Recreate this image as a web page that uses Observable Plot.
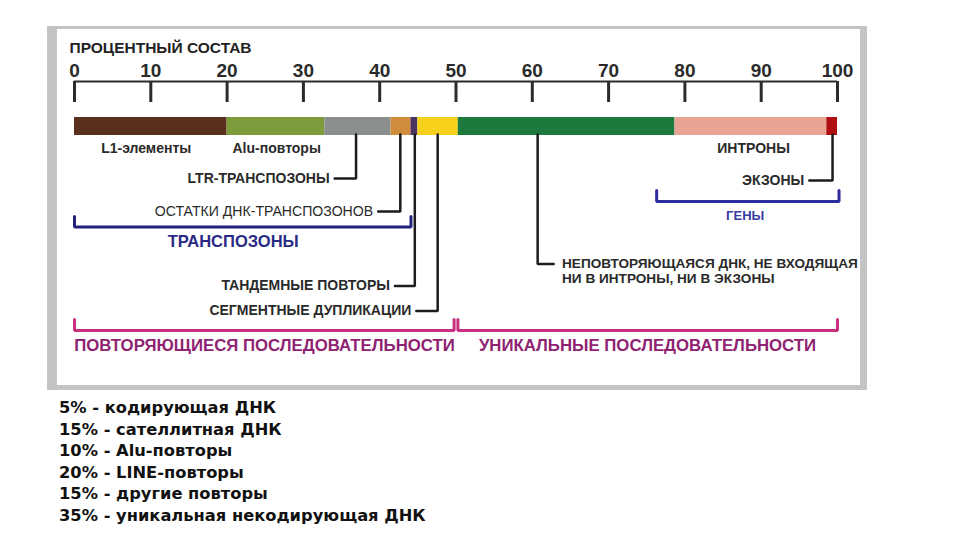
<!DOCTYPE html>
<html>
<head>
<meta charset="utf-8">
<script src="https://cdn.jsdelivr.net/npm/d3@7"></script>
<script src="https://cdn.jsdelivr.net/npm/@observablehq/plot@0.6"></script>
<style>
  html, body { margin: 0; padding: 0; background: #fff; }
  #wrap { position: relative; width: 960px; height: 540px; overflow: hidden; }
  #frame { position: absolute; left: 47px; top: 26px; width: 820px; height: 364px; box-sizing: border-box;
           border-left: 10px solid #c4c4c4; border-top: 3px solid #c4c4c4; border-right: 7px solid #c4c4c4; border-bottom: 5px solid #c4c4c4; }
  #chart { position: absolute; left: 0; top: 0; }
  #notes { position: absolute; left: 59px; top: 397px; font-family: "DejaVu Sans", Verdana, sans-serif; font-weight: bold;
           font-size: 16.3px; line-height: 21.6px; color: #111; }
</style>
</head>
<body>
<div id="wrap">
  <div id="frame"></div>
  <div id="chart"></div>
  <div id="notes"></div>
</div>
<script>
// ---- data ----
const segments = ["L1-элементы", "Alu-повторы", "LTR-транспозоны", "Остатки ДНК-транспозонов",
  "Тандемные повторы", "Сегментные дупликации", "Неповторяющаяся ДНК", "Интроны", "Экзоны"];
const shares = [20, 12.8, 8.7, 2.6, 0.9, 5.3, 28.4, 19.9, 1.4];
const segmentColors = ["#5a301d", "#7c9c3c", "#8b8f8d", "#d28c3e", "#4b3560", "#f6d11c", "#1d7a3f", "#e9a392", "#b00f12"];

const tickValues = [0, 10, 20, 30, 40, 50, 60, 70, 80, 90, 100];
const title = "ПРОЦЕНТНЫЙ СОСТАВ";

// labels directly under the bar
const underLabels = ["L1-элементы", "Alu-повторы", "ИНТРОНЫ"];
const underAt = [9.4, 26.5, 89.0];

// callouts with leader lines (x = point on the bar)
const calloutLabels = ["LTR-ТРАНСПОЗОНЫ", "ОСТАТКИ ДНК-ТРАНСПОЗОНОВ", "ТАНДЕМНЫЕ ПОВТОРЫ", "СЕГМЕНТНЫЕ ДУПЛИКАЦИИ", "ЭКЗОНЫ"];
const calloutAt = [36.9, 42.7, 44.6, 47.6, 99.35];
const calloutEnd = [34.1, 39.8, 42.0, 44.8, 96.3];
const calloutBold = [true, false, true, true, true];

const uniqueLines = ["НЕПОВТОРЯЮЩАЯСЯ ДНК, НЕ ВХОДЯЩАЯ", "НИ В ИНТРОНЫ, НИ В ЭКЗОНЫ"];
const uniqueAt = 60.7;
const uniqueEnd = 62.8;
const uniqueText = 63.9;

// brackets
const groups = ["ТРАНСПОЗОНЫ", "ГЕНЫ", "ПОВТОРЯЮЩИЕСЯ ПОСЛЕДОВАТЕЛЬНОСТИ", "УНИКАЛЬНЫЕ ПОСЛЕДОВАТЕЛЬНОСТИ"];
const groupStart = [0, 76.3, 0, 50.25];
const groupEnd = [44.1, 100.2, 49.75, 100];
const groupCenter = [20.8, 87.9, 24.9, 75.1];

const notes = ["5% - кодирующая ДНК", "15% - сателлитная ДНК", "10% - Alu-повторы",
  "20% - LINE-повторы", "15% - другие повторы", "35% - уникальная некодирующая ДНК"];

// ---- layout (pixel rows) ----
const layout = {
  titleY: 48, tickLabelY: 70.5, axisY: 81, tickBottom: 102,
  barTop: 117, barBottom: 135, underY: 148,
  calloutY: [178, 211, 285.5, 310.5, 180],
  uniqueY: [263.5, 278],
  groupLineY: [226.5, 201, 330, 330], groupTopY: [216, 190, 319, 319], groupLabelY: [241.5, 215.5, 345, 345],
  groupStroke: ["#23237e", "#2d2da0", "#c7307f", "#c7307f"],
  groupText: ["#2a2a86", "#3b3ba6", "#8f2372", "#8f2372"],
  groupSize: [16.5, 13, 16.8, 16.8]
};

const bar = segments.map((name, i) => ({name, share: shares[i]}));
const callouts = calloutLabels.map((label, i) => ({label, at: calloutAt[i], end: calloutEnd[i], y: layout.calloutY[i], bold: calloutBold[i]}));
const calloutPaths = callouts.flatMap((c, i) => [
  {id: i, x: c.at, y: layout.barBottom - 1},
  {id: i, x: c.at, y: c.y},
  {id: i, x: c.end, y: c.y}
]);
const uniquePath = [
  {x: uniqueAt, y: layout.barBottom - 1},
  {x: uniqueAt, y: layout.uniqueY[0]},
  {x: uniqueEnd, y: layout.uniqueY[0]}
];
const bracketPaths = groups.flatMap((g, i) => [
  {id: i, x: groupStart[i], y: layout.groupTopY[i]},
  {id: i, x: groupStart[i], y: layout.groupLineY[i]},
  {id: i, x: groupEnd[i], y: layout.groupLineY[i]},
  {id: i, x: groupEnd[i], y: layout.groupTopY[i]}
]);
const groupLabels = groups.map((g, i) => ({g, x: groupCenter[i], y: layout.groupLabelY[i], size: layout.groupSize[i], color: layout.groupText[i]}));

const chart = Plot.plot({
  width: 960,
  height: 390,
  marginLeft: 74,
  marginRight: 123,
  marginTop: 0,
  marginBottom: 0,
  x: {domain: [0, 100], axis: null},
  y: {domain: [0, 390], range: [0, 390], axis: null},
  color: {domain: segments, range: segmentColors},
  style: {fontFamily: "'Liberation Sans', Arial, sans-serif", background: "transparent", overflow: "visible"},
  marks: [
    // title
    Plot.text([title], {x: 0, y: layout.titleY, text: d => d, textAnchor: "start", dx: -5, fontSize: 15.5, fontWeight: "bold", fill: "#222"}),
    // axis
    Plot.ruleY([layout.axisY], {x1: 0, x2: 100, stroke: "#2b2b2b", strokeWidth: 2}),
    Plot.ruleX(tickValues, {x: d => d, y1: layout.axisY, y2: layout.tickBottom, stroke: "#2b2b2b", strokeWidth: 3}),
    Plot.text(tickValues, {x: d => d, y: layout.tickLabelY, text: d => String(d), fontSize: 19, fontWeight: "bold", fill: "#2a2a2a"}),
    // stacked bar
    Plot.rectX(bar, {x: "share", y1: layout.barTop, y2: layout.barBottom, fill: "name", order: null}),
    // labels under bar
    Plot.text(underLabels, {x: (d, i) => underAt[i], y: layout.underY, text: d => d, fontSize: 14, fontWeight: "bold", fill: "#2a2a2a"}),
    // callout leaders
    Plot.line(calloutPaths, {x: "x", y: "y", z: "id", stroke: "#1c1c1c", strokeWidth: 2.5, strokeLinejoin: "miter"}),
    Plot.text(callouts.filter(c => c.bold), {x: "end", y: "y", text: "label", textAnchor: "end", dx: -5, fontSize: 14, fontWeight: "bold", fill: "#2a2a2a"}),
    Plot.text(callouts.filter(c => !c.bold), {x: "end", y: "y", text: "label", textAnchor: "end", dx: -5, fontSize: 14.1, fill: "#2a2a2a"}),
    Plot.line(uniquePath, {x: "x", y: "y", stroke: "#1c1c1c", strokeWidth: 2.5, strokeLinejoin: "miter"}),
    Plot.text(uniqueLines, {x: uniqueText, y: (d, i) => layout.uniqueY[i], text: d => d, textAnchor: "start", fontSize: 13.6, fontWeight: "bold", fill: "#2a2a2a"}),
    // brackets
    Plot.line(bracketPaths, {x: "x", y: "y", z: "id", stroke: d => layout.groupStroke[d.id], strokeWidth: 3, strokeLinejoin: "miter"}),
    ...groupLabels.map(g => Plot.text([g], {x: "x", y: "y", text: "g", fontSize: g.size, fontWeight: "bold", fill: g.color}))
  ]
});
document.getElementById("chart").appendChild(chart);

const notesDiv = document.getElementById("notes");
notes.forEach(n => {
  const line = document.createElement("div");
  line.textContent = n;
  notesDiv.appendChild(line);
});
</script>
</body>
</html>
